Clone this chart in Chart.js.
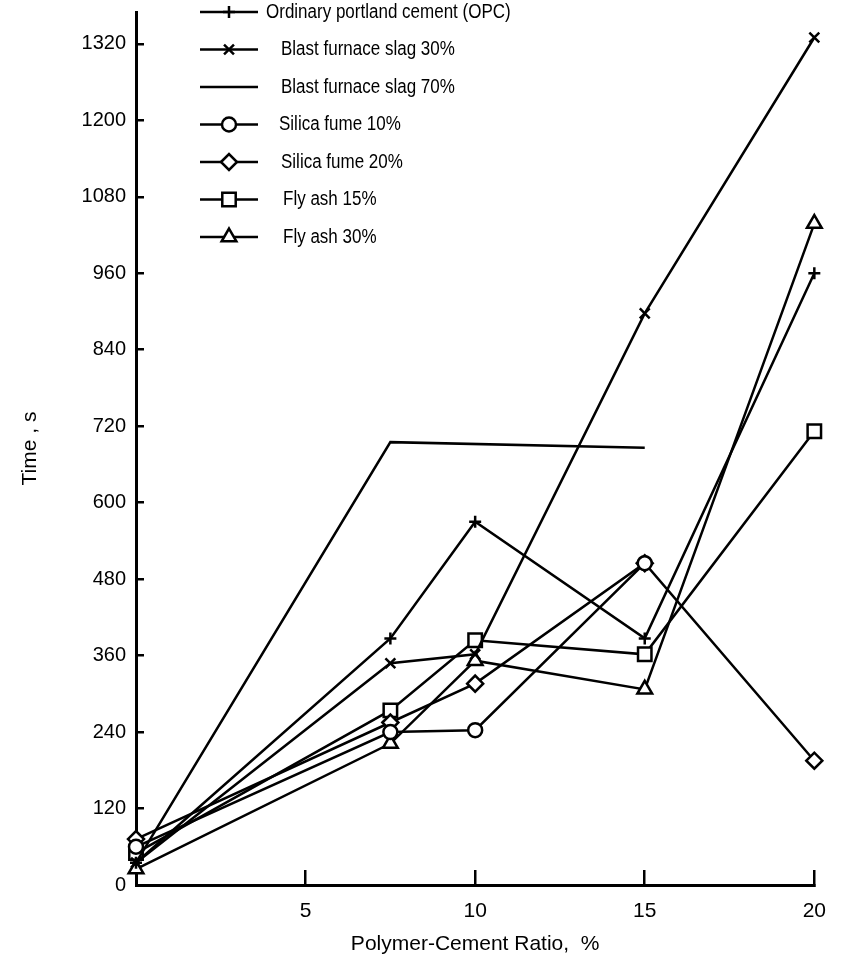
<!DOCTYPE html>
<html>
<head>
<meta charset="utf-8">
<script src="https://cdn.jsdelivr.net/npm/chart.js@4.4.1/dist/chart.umd.min.js"></script>
<style>
  html, body { margin: 0; padding: 0; background: #fff; }
</style>
</head>
<body>
<canvas id="myChart" width="855" height="975"></canvas>
<script>
// values (x = polymer-cement ratio %, y = time s)
var ratio = [0, 7.5, 10, 15, 20];
var ratioSlag70 = [0, 7.5, 15];
var ratioSilica10 = [0, 7.5, 10, 15];

var opc = [35, 387, 570, 387, 960];
var slag30 = [35, 348, 362, 897, 1330];
var slag70 = [35, 695, 686];
var silica10 = [60, 240, 243, 505];
var silica20 = [72, 255, 316, 505, 195];
var flyash15 = [50, 274, 384, 362, 712];
var flyash30 = [25, 222, 352, 307, 1038];

var seriesNames = [
  "Ordinary portland cement (OPC)",
  "Blast furnace slag 30%",
  "Blast furnace slag 70%",
  "Silica fume 10%",
  "Silica fume 20%",
  "Fly ash 15%",
  "Fly ash 30%"
];

var xTicks = [5, 10, 15, 20];
var yTicks = [0, 120, 240, 360, 480, 600, 720, 840, 960, 1080, 1200, 1320];

function pts(xs, ys) {
  return xs.map(function (x, i) { return { x: x, y: ys[i] }; });
}

function series(name, xs, ys, style, radius) {
  return {
    label: name,
    data: pts(xs, ys),
    borderColor: "#000",
    borderWidth: 2.5,
    backgroundColor: "#fff",
    pointStyle: style,
    pointRadius: radius,
    pointBorderWidth: 2.5,
    pointBorderColor: "#000",
    pointBackgroundColor: "#fff",
    tension: 0,
    clip: false
  };
}

var dataset = [
  series(seriesNames[0], ratio, opc, "cross", 6),
  series(seriesNames[1], ratio, slag30, "crossRot", 7),
  series(seriesNames[2], ratioSlag70, slag70, "circle", 0),
  series(seriesNames[3], ratioSilica10, silica10, "circle", 7),
  series(seriesNames[4], ratio, silica20, "rectRot", 8),
  series(seriesNames[5], ratio, flyash15, "rect", 9.5),
  series(seriesNames[6], ratio, flyash30, "triangle", 8.5)
];

// line + marker legend like the printed figure
var sampleLegend = {
  id: "sampleLegend",
  afterDraw: function (chart) {
    var o = chart.options.plugins.sampleLegend;
    var ctx = chart.ctx;
    ctx.save();
    chart.data.datasets.forEach(function (ds, i) {
      var y = o.top + i * o.rowHeight;
      ctx.strokeStyle = "#000";
      ctx.lineWidth = ds.borderWidth;
      ctx.beginPath();
      ctx.moveTo(o.left, y);
      ctx.lineTo(o.left + o.lineLength, y);
      ctx.stroke();
      if (ds.pointRadius > 0) {
        ctx.fillStyle = "#fff";
        ctx.lineWidth = ds.pointBorderWidth;
        Chart.helpers.drawPoint(ctx, {
          pointStyle: ds.pointStyle,
          radius: ds.pointRadius,
          borderWidth: ds.pointBorderWidth,
          rotation: 0
        }, o.left + o.lineLength / 2, y);
      }
      // the printed lettering is a narrow face, so squeeze it a little
      ctx.save();
      ctx.translate(o.textX[i], y);
      ctx.scale(o.squeeze, 1);
      ctx.fillStyle = "#000";
      ctx.font = o.font;
      ctx.textBaseline = "middle";
      ctx.textAlign = "left";
      ctx.fillText(ds.label, 0, 0);
      ctx.restore();
    });
    ctx.restore();
  }
};

Chart.defaults.font.family = "'Liberation Sans', Arial, sans-serif";
Chart.defaults.color = "#000";

var chart = new Chart(document.getElementById("myChart"), {
  type: "line",
  data: { datasets: dataset },
  options: {
    responsive: false,
    animation: false,
    layout: { padding: { top: 4, right: 25, left: 0, bottom: 0 } },
    plugins: {
      legend: { display: false },
      tooltip: { enabled: false },
      sampleLegend: {
        left: 200, lineLength: 58, top: 12, rowHeight: 37.5,
        textX: [266, 281, 281, 279, 281, 283, 283],
        squeeze: 0.85,
        font: "20px 'Liberation Sans', Arial, sans-serif"
      }
    },
    scales: {
      x: {
        type: "linear",
        min: 0,
        max: 20,
        afterBuildTicks: function (s) { s.ticks = xTicks.map(function (v) { return { value: v }; }); },
        afterFit: function (s) { s.height = 90; s.paddingLeft = 0; },
        border: { color: "#000", width: 3 },
        grid: { drawOnChartArea: false, color: "#000", lineWidth: 2.5, tickLength: -15 },
        ticks: { font: { size: 21 }, padding: 29, maxRotation: 0 },
        title: {
          display: true,
          text: "Polymer-Cement Ratio,  %",
          font: { size: 21 },
          padding: { top: 0, bottom: 18 }
        }
      },
      y: {
        min: 0,
        max: 1370,
        afterBuildTicks: function (s) { s.ticks = yTicks.map(function (v) { return { value: v }; }); },
        afterFit: function (s) { s.width = 136; s.paddingTop = 0; s.paddingBottom = 0; },
        border: { color: "#000", width: 3 },
        grid: { drawOnChartArea: false, color: "#000", lineWidth: 2.5, tickLength: -8 },
        ticks: {
          font: { size: 20 },
          padding: 18,
          callback: function (v) { return String(v); }
        },
        title: {
          display: true,
          text: "Time , s",
          font: { size: 21 },
          padding: { top: 18, bottom: 0 }
        }
      }
    }
  },
  plugins: [sampleLegend]
});
</script>
</body>
</html>
